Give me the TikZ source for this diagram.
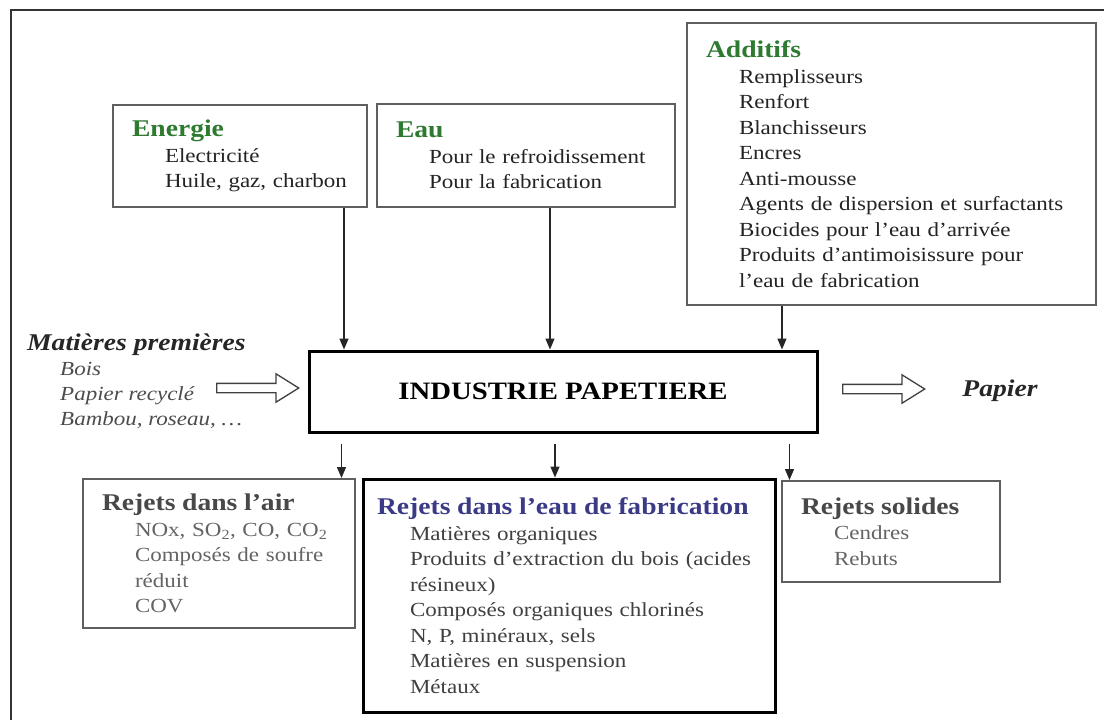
\documentclass[tikz,border=0pt]{standalone}
\usepackage{fontspec}
\setmainfont{Liberation Serif}[FakeStretch=1.15]
\usetikzlibrary{shapes.arrows,arrows.meta,positioning}
\definecolor{titre_vert}{RGB}{46,122,48}
\definecolor{titre_bleu}{RGB}{58,58,135}
\definecolor{titre_gris}{RGB}{72,72,72}
\definecolor{texte_fonce}{RGB}{35,35,35}
\definecolor{texte_gris}{RGB}{100,100,100}
\definecolor{bord_gris}{RGB}{95,95,95}
\newcommand{\titre}{\fontsize{24}{25.5}\selectfont\bfseries}
\newcommand{\retrait}{\hspace*{33pt}}
\tikzstyle{cadre}=[rectangle,draw=bord_gris,line width=2pt,align=left,
  inner xsep=19pt,inner ysep=0pt,text=texte_fonce,font=\fontsize{20}{25.5}\selectfont]
\tikzstyle{cadre_gras}=[cadre,draw=black,line width=3pt]
\tikzstyle{fleche}=[single arrow,draw=black!75,fill=white,line width=1.3pt,
  inner sep=4pt,minimum height=82pt,single arrow head extend=9.5pt,
  single arrow tip angle=64]
\tikzstyle{fl}=[-{Triangle[length=11pt,width=9pt]},line width=1.4pt,black!85]

\begin{document}
\begin{tikzpicture}[x=1pt,y=-1pt]
    \useasboundingbox (0,0) rectangle (1104,720);
    \draw [line width=2.5pt,black!80] (11,720) -- (11,10) -- (1104,10);
    % entrees
    \node [cadre,text width=216pt,minimum height=102pt] (energie) at (240,156)
      {{\titre\color{titre_vert}Energie}\\
       \retrait Electricité\\
       \retrait Huile, gaz, charbon};
    \node [cadre,text width=260pt,minimum height=103pt] (eau) at (526,155.5)
      {{\titre\color{titre_vert}Eau}\\
       \retrait Pour le refroidissement\\
       \retrait Pour la fabrication};
    \node [cadre,text width=371pt,minimum height=282pt] (additifs) at (891.5,164)
      {{\titre\color{titre_vert}Additifs}\\
       \retrait Remplisseurs\\
       \retrait Renfort\\
       \retrait Blanchisseurs\\
       \retrait Encres\\
       \retrait Anti-mousse\\
       \retrait Agents de dispersion et surfactants\\
       \retrait Biocides pour l’eau d’arrivée\\
       \retrait Produits d’antimoisissure pour\\
       \retrait l’eau de fabrication};
    \node [cadre_gras,minimum width=508pt,minimum height=81pt,text=black,
      font=\fontsize{25}{30}\selectfont\bfseries] (industrie) at (563,391.5)
      {INDUSTRIE PAPETIERE};
    \node [align=left,anchor=north west,inner sep=0pt,text=black!70,
      font=\fontsize{20}{25}\selectfont\itshape] (matieres) at (27,334)
      {{\titre\itshape\color{black!85}Matières premières}\\
       \retrait Bois\\
       \retrait Papier recyclé\\
       \retrait Bambou, roseau, …};
    \node [fleche] (entree) at (254,388) {};
    \node [fleche] (sortie) at (880,389) {};
    \node [font=\titre\itshape,text=black!85] (papier) at (1000,390.5) {Papier};
    % rejets
    \node [cadre,text width=234pt,minimum height=149pt,text=texte_gris] (air) at (219,553.5)
      {{\titre\color{titre_gris}Rejets dans l’air}\\
       \retrait NOx, SO\textsubscript{2}, CO, CO\textsubscript{2}\\
       \retrait Composés de soufre\\
       \retrait réduit\\
       \retrait COV};
    \node [cadre_gras,inner xsep=14pt,text width=384pt,minimum height=233pt,
      text=black!75] (eaufab) at (569,595.5)
      {{\titre\color{titre_bleu}Rejets dans l’eau de fabrication}\\
       \retrait Matières organiques\\
       \retrait Produits d’extraction du bois (acides\\
       \retrait résineux)\\
       \retrait Composés organiques chlorinés\\
       \retrait N, P, minéraux, sels\\
       \retrait Matières en suspension\\
       \retrait Métaux};
    \node [cadre,text width=180pt,minimum height=101pt,text=texte_gris] (solides) at (891,531.5)
      {{\titre\color{titre_gris}Rejets solides}\\
       \retrait Cendres\\
       \retrait Rebuts};
    % fleches
    \coordinate (h1) at ([xshift=-24pt]energie.south east);
    \coordinate (h2) at ([xshift=24pt]eau.south);
    \coordinate (h3) at ([xshift=96pt]additifs.south west);
    \coordinate (b1) at ([xshift=34pt,yshift=-10pt]industrie.south west);
    \coordinate (b2) at ([xshift=-8pt,yshift=-10pt]industrie.south);
    \coordinate (b3) at ([xshift=-29pt,yshift=-10pt]industrie.south east);
    \draw [fl] (h1) -- (h1 |- industrie.north);
    \draw [fl] (h2) -- (h2 |- industrie.north);
    \draw [fl] (h3) -- (h3 |- industrie.north);
    \draw [fl] (b1) -- (b1 |- air.north);
    \draw [fl] (b2) -- (b2 |- eaufab.north);
    \draw [fl] (b3) -- (b3 |- solides.north);
\end{tikzpicture}
\end{document}
